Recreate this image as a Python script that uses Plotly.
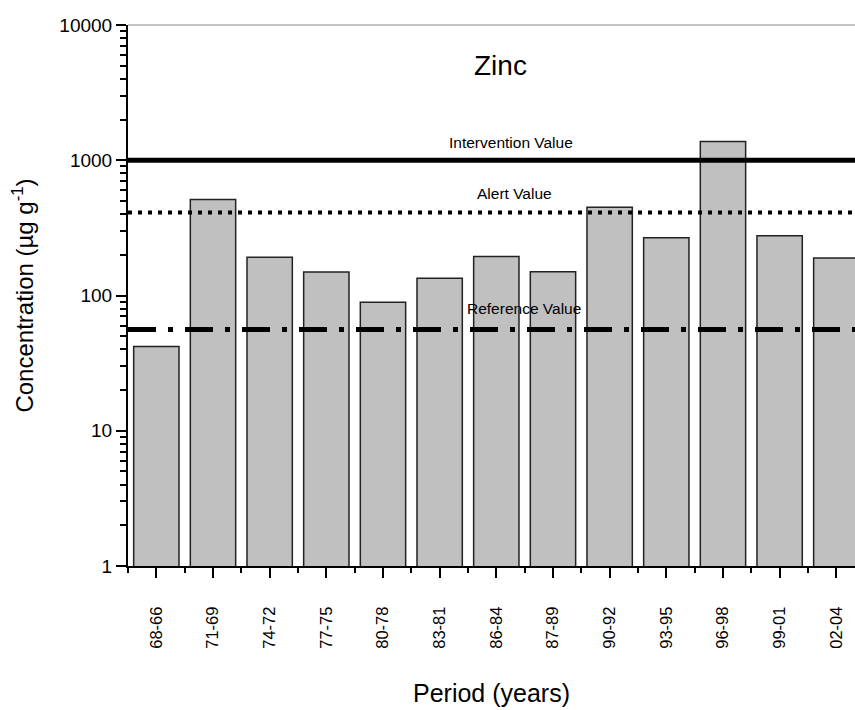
import math
import plotly.graph_objects as go

periods = ["68-66", "71-69", "74-72", "77-75", "80-78", "83-81", "86-84",
           "87-89", "90-92", "93-95", "96-98", "99-01", "02-04"]
zinc = [42, 513, 192, 149, 89, 134, 194, 150, 450, 267, 1377, 276, 189]

intervention_value = 1000
alert_value = 410
reference_value = 56

x_idx = list(range(len(periods)))
x_lo, x_hi = -0.5, 12.33

FONT = "Liberation Sans, Arial, sans-serif"

fig = go.Figure()
fig.add_trace(go.Bar(
    x=x_idx, y=zinc, width=0.8,
    marker=dict(color="#c0c0c0", line=dict(color="#222222", width=1.5)),
    showlegend=False,
))

def hline(val, dash, width):
    fig.add_trace(go.Scatter(
        x=[x_lo, x_hi], y=[val, val], mode="lines",
        line=dict(color="black", width=width, dash=dash),
        showlegend=False, hoverinfo="skip",
    ))

hline(intervention_value, "solid", 5)
hline(alert_value, "4px,6px", 4)
hline(reference_value, "28px,12px,5px,12px", 5)

annots = [
    ("Intervention Value", 6.26, intervention_value, 18),
    ("Alert Value", 6.32, alert_value, 19),
    ("Reference Value", 6.49, reference_value, 21),
]
for txt, xv, yv, shift in annots:
    fig.add_annotation(x=xv, y=math.log10(yv), text=txt,
                       showarrow=False, yshift=shift,
                       font=dict(family=FONT, size=15.5, color="black"))

fig.add_annotation(x=6.07, y=3.699, text="Zinc", showarrow=False,
                   font=dict(family=FONT, size=28, color="black"))

fig.add_shape(type="line", xref="paper", yref="paper", x0=0, x1=1, y0=1, y1=1,
              line=dict(color="#888888", width=1))

fig.update_layout(
    width=855, height=710,
    margin=dict(l=128, r=0, t=25, b=144),
    plot_bgcolor="white", paper_bgcolor="white",
    font=dict(family=FONT, color="black"),
    bargap=0.2,
)
fig.update_xaxes(
    range=[x_lo, x_hi],
    tickmode="array", tickvals=x_idx, ticktext=periods,
    tickangle=-90, tickfont=dict(size=16.5),
    ticks="outside", ticklen=10, tickwidth=2, tickcolor="black",
    ticklabelstandoff=22,
    minor=dict(ticks="outside", ticklen=5, tickwidth=2, tickcolor="black",
               tick0=0.5, dtick=1),
    showline=True, linecolor="black", linewidth=2,
    showgrid=False, zeroline=False,
    title=dict(text="Period (years)", font=dict(size=25), standoff=37),
)
fig.update_yaxes(
    type="log", range=[0, 4],
    tickvals=[1, 10, 100, 1000, 10000],
    ticktext=["1", "10", "100", "1000", "10000"],
    tickfont=dict(size=19),
    ticks="outside", ticklen=10, tickwidth=2, tickcolor="black",
    minor=dict(ticks="outside", ticklen=6, tickwidth=2, tickcolor="black",
               tickvals=[m * 10 ** d for d in range(4) for m in range(2, 10)]),
    showline=True, linecolor="black", linewidth=2,
    showgrid=False, zeroline=False,
    title=dict(text="Concentration (\u00b5g g<sup>-1</sup>)", font=dict(size=24), standoff=19),
)

fig.write_html("out.html")
